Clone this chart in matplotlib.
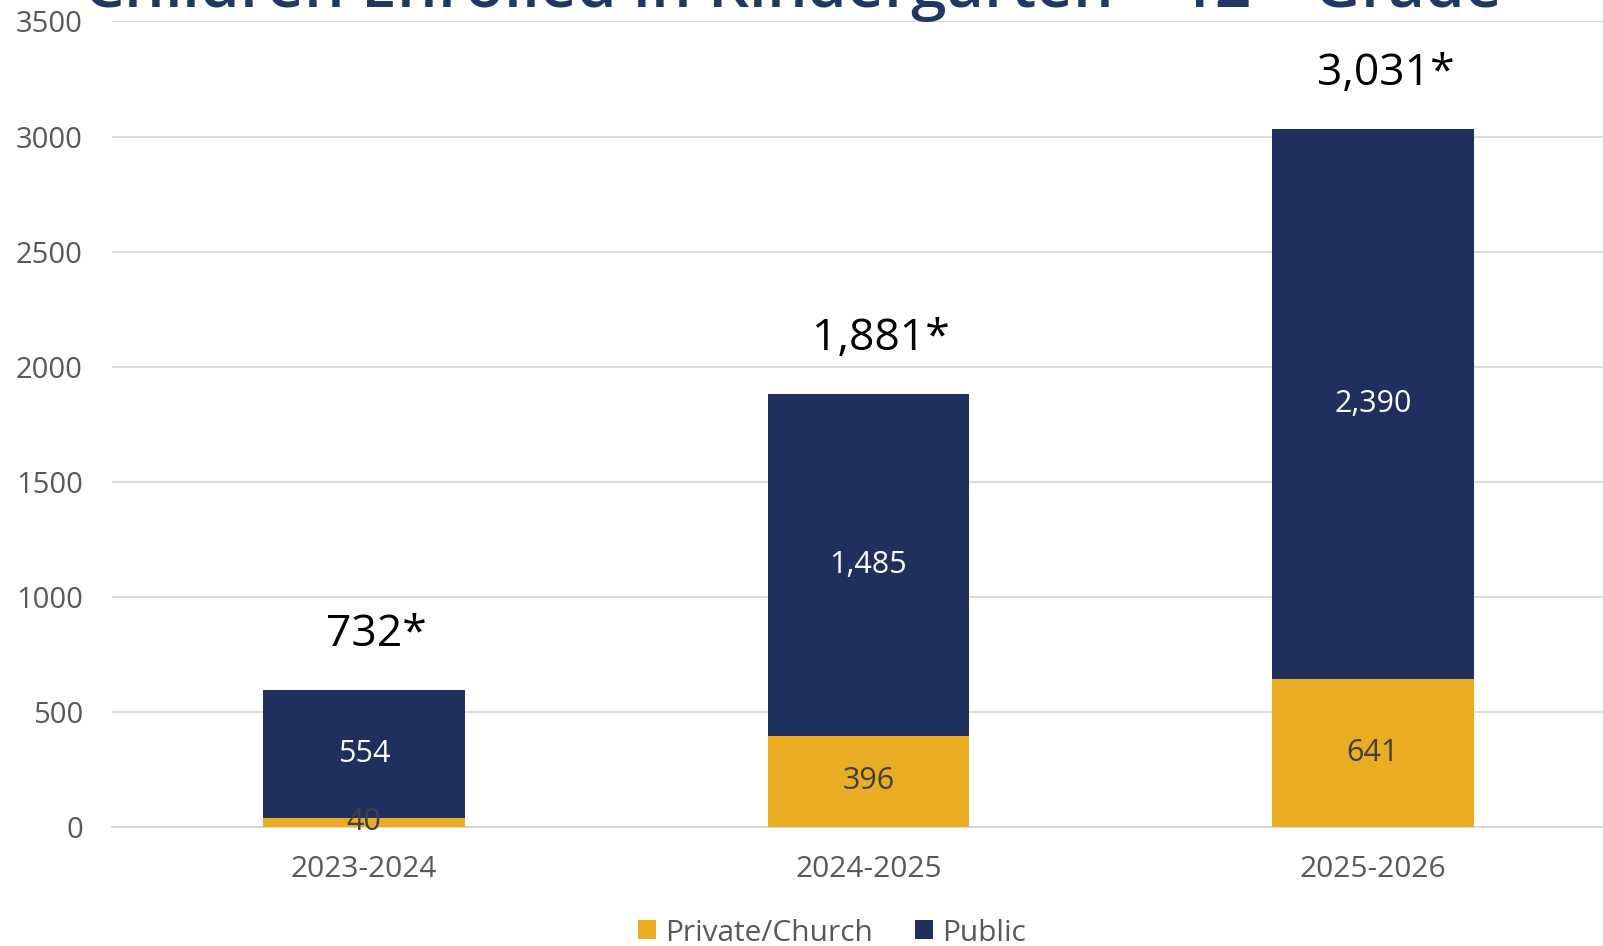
import matplotlib.pyplot as plt
import numpy as np

# dados do gráfico
anos = ['2023-2024', '2024-2025', '2025-2026']
privada = [40, 396, 641]
publica = [554, 1485, 2390]
totais_rotulo = ['732*', '1,881*', '3,031*']

COR_PRIV = '#EAAC22'
COR_PUB = '#1F2F5E'
CINZA = '#595959'

plt.rcParams['font.family'] = ['Open Sans', 'DejaVu Sans']
plt.rcParams['mathtext.fontset'] = 'custom'
plt.rcParams['mathtext.rm'] = 'Open Sans'

fig = plt.figure(figsize=(16.03, 9.46), dpi=100)
ax = fig.add_axes([112 / 1603, 1 - 827 / 946, (1625 - 112) / 1603, (827 - 21.5) / 946])

x = np.arange(len(anos))
largura = 0.4
b1 = ax.bar(x, privada, largura, color=COR_PRIV, label='Private/Church', zorder=3)
b2 = ax.bar(x, publica, largura, bottom=privada, color=COR_PUB, label='Public', zorder=3)

# rótulos dentro das barras
for i in range(len(anos)):
    ax.text(x[i], privada[i] / 2, f'{privada[i]:,}', ha='center', va='center',
            fontsize=22, color='#404040', zorder=4)
    ax.text(x[i], privada[i] + publica[i] / 2, f'{publica[i]:,}', ha='center', va='center',
            fontsize=22, color='white', zorder=4)
    ax.annotate(totais_rotulo[i], (x[i], privada[i] + publica[i]), xytext=(9, 40),
                textcoords='offset points', ha='center', va='center', fontsize=32,
                color='black')

ax.set_xlim(-0.5, 2.5)
ax.set_ylim(0, 3500)
ax.set_yticks(range(0, 3501, 500))
ax.set_xticks(x)
ax.set_xticklabels(anos)
ax.tick_params(axis='x', labelsize=21.5, colors=CINZA, length=0, pad=20)
ax.tick_params(axis='y', labelsize=21, colors=CINZA, length=0, pad=21)
for lbl in ax.get_yticklabels():
    lbl.set_horizontalalignment('right')
ax.yaxis.grid(True, color='#D9D9D9', linewidth=1.3, zorder=0)
ax.set_axisbelow(True)
for lado in ['top', 'right', 'left']:
    ax.spines[lado].set_visible(False)
ax.spines['bottom'].set_color('#D9D9D9')
ax.spines['bottom'].set_linewidth(1.3)

fig.legend(handles=[b1, b2], loc='center', bbox_to_anchor=(0.519, 1 - 933 / 946), ncol=2,
           frameon=False, fontsize=21.5, handlelength=0.6, handleheight=0.6,
           handletextpad=0.3, columnspacing=1.4, labelcolor=CINZA)

# título cortado no topo
fig.text(0.494, 1 - 8 / 946, r'Children Enrolled in Kindergarten – 12$^{\mathrm{th}}$ Grade',
         ha='center', va='baseline', fontsize=46, color='#1F3864', fontweight='semibold')

plt.savefig('out.png', dpi=100)
